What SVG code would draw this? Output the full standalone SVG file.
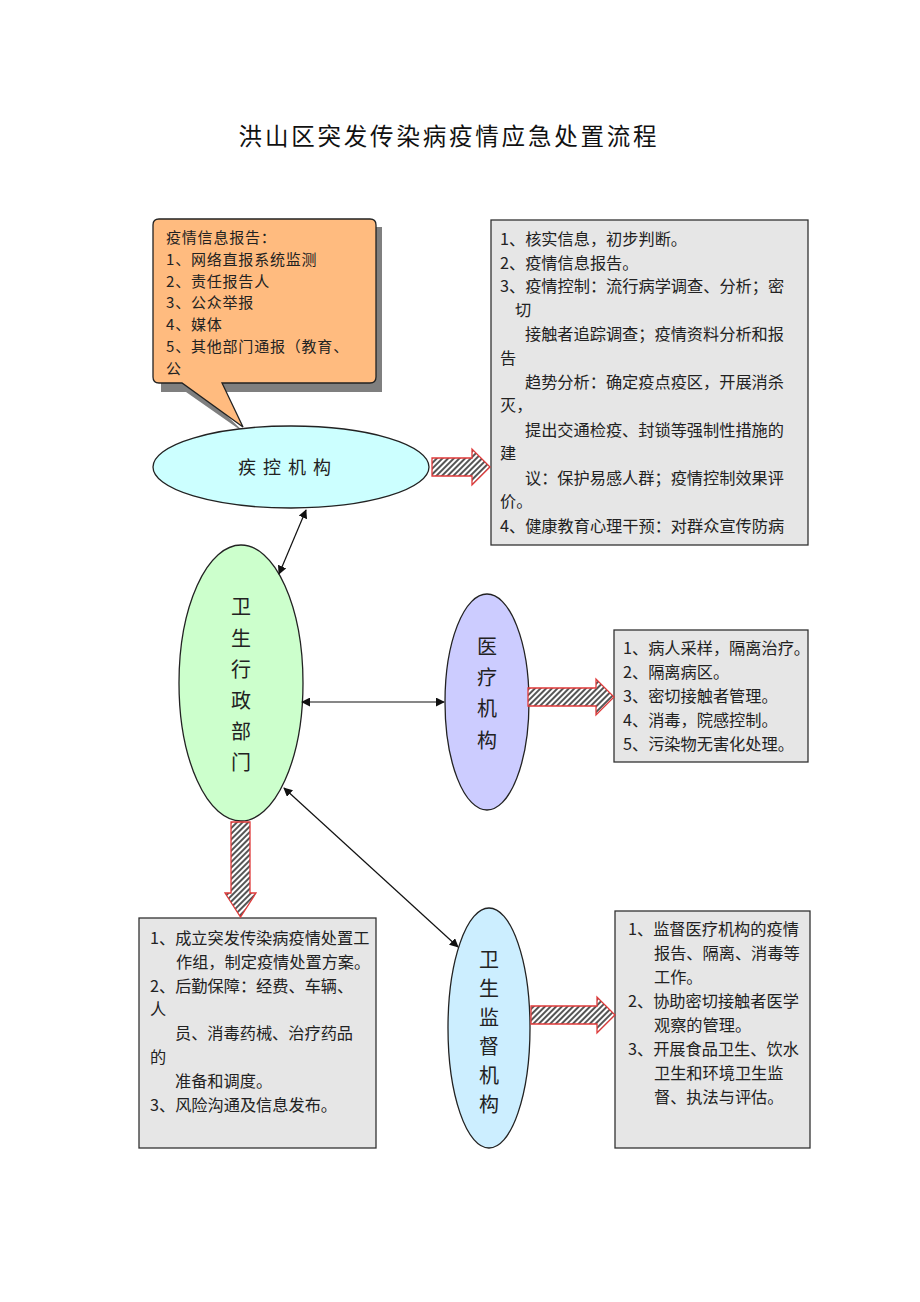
<svg xmlns="http://www.w3.org/2000/svg" width="920" height="1302" viewBox="0 0 920 1302">
<style>
.t{font-family:"Noto Sans CJK SC","Noto Sans",sans-serif;font-size:16.2px;fill:#222}
.c{font-family:"Noto Sans CJK SC","Noto Sans",sans-serif;font-size:15px;fill:#222;letter-spacing:0.8px}
.v{font-family:"Noto Sans CJK SC","Noto Sans",sans-serif;font-size:20px;fill:#222;text-anchor:middle}
.box{fill:#e6e6e6;stroke:#333;stroke-width:1.3}
.ha{fill:url(#hatch);stroke:#e03a3a;stroke-width:1.3}
.ln{stroke:#111;stroke-width:1.2;fill:none;marker-start:url(#ah);marker-end:url(#ah)}
</style>
<defs>
<pattern id="hatch" patternUnits="userSpaceOnUse" width="4" height="4" patternTransform="rotate(45)">
<rect width="4" height="4" fill="#fff"/>
<rect width="2" height="4" fill="#555"/>
</pattern>
<marker id="ah" viewBox="0 0 10 10" refX="9" refY="5" markerWidth="9" markerHeight="9" markerUnits="userSpaceOnUse" orient="auto-start-reverse">
<path d="M0,0 L10,5 L0,10 z" fill="#111"/>
</marker>
</defs>
<rect width="920" height="1302" fill="#fff"/>
<text x="449" y="145" text-anchor="middle" style="font-family:'Noto Sans CJK SC',sans-serif;font-size:23.5px;letter-spacing:2.8px;fill:#111">洪山区突发传染病疫情应急处置流程</text>

<g id="callout">
<path d="M161,227 h221 v165 h-180 l44,42 l-60,-42 h-25 z" fill="#7f7f7f"/>
<path d="M159,219 h211 q6,0 6,6 v152 q0,6 -6,6 h-148 l21,44 l-61,-44 h-23 q-6,0 -6,-6 v-152 q0,-6 6,-6 z" fill="#ffbb7f" stroke="#222" stroke-width="1.3"/>
<text class="c"><tspan x="166" y="243">疫情信息报告：</tspan><tspan x="166" y="265">1、网络直报系统监测</tspan><tspan x="166" y="287">2、责任报告人</tspan><tspan x="166" y="308">3、公众举报</tspan><tspan x="166" y="330">4、媒体</tspan><tspan x="166" y="352">5、其他部门通报（教育、</tspan><tspan x="166" y="374">公</tspan></text>
</g>

<g id="jikong">
<ellipse cx="291" cy="467" rx="138" ry="41" fill="#ccffff" stroke="#222" stroke-width="1.3"/>
<text x="288" y="474" text-anchor="middle" style="font-family:'Noto Sans CJK SC',sans-serif;font-size:18px;letter-spacing:7px;fill:#222">疾控机构</text>
</g>

<g id="box1">
<rect class="box" x="491" y="220" width="317" height="325"/>
<text class="t"><tspan x="500" y="245">1、核实信息，初步判断。</tspan><tspan x="500" y="269">2、疫情信息报告。</tspan><tspan x="500" y="292">3、疫情控制：流行病学调查、分析；密</tspan><tspan x="515" y="316">切</tspan><tspan x="525" y="340">接触者追踪调查；疫情资料分析和报</tspan><tspan x="500" y="364">告</tspan><tspan x="525" y="388">趋势分析：确定疫点疫区，开展消杀</tspan><tspan x="500" y="411">灭，</tspan><tspan x="525" y="436">提出交通检疫、封锁等强制性措施的</tspan><tspan x="500" y="459">建</tspan><tspan x="525" y="484">议：保护易感人群；疫情控制效果评</tspan><tspan x="500" y="507">价。</tspan><tspan x="500" y="532">4、健康教育心理干预：对群众宣传防病</tspan></text>
</g>

<g id="weisheng">
<ellipse cx="241" cy="683" rx="62" ry="138" fill="#ccffcc" stroke="#222" stroke-width="1.3"/>
<text class="v"><tspan x="241" y="614">卫</tspan><tspan x="241" y="646">生</tspan><tspan x="241" y="677">行</tspan><tspan x="241" y="708">政</tspan><tspan x="241" y="739">部</tspan><tspan x="241" y="770">门</tspan></text>
</g>

<g id="yiliao">
<ellipse cx="487" cy="702" rx="42" ry="108" fill="#ccccff" stroke="#222" stroke-width="1.3"/>
<text class="v"><tspan x="487" y="654">医</tspan><tspan x="487" y="685">疗</tspan><tspan x="487" y="716">机</tspan><tspan x="487" y="748">构</tspan></text>
</g>

<g id="box2">
<rect class="box" x="614" y="630" width="194" height="132"/>
<text class="t"><tspan x="623" y="654">1、病人采样，隔离治疗。</tspan><tspan x="623" y="678">2、隔离病区。</tspan><tspan x="623" y="702">3、密切接触者管理。</tspan><tspan x="623" y="726">4、消毒，院感控制。</tspan><tspan x="623" y="750">5、污染物无害化处理。</tspan></text>
</g>

<g id="box4">
<rect class="box" x="139" y="918" width="237" height="230"/>
<text class="t"><tspan x="150" y="944">1、成立突发传染病疫情处置工</tspan><tspan x="176" y="968">作组，制定疫情处置方案。</tspan><tspan x="150" y="992">2、后勤保障：经费、车辆、</tspan><tspan x="150" y="1015">人</tspan><tspan x="175" y="1039">员、消毒药械、治疗药品</tspan><tspan x="150" y="1063">的</tspan><tspan x="175" y="1087">准备和调度。</tspan><tspan x="150" y="1111">3、风险沟通及信息发布。</tspan></text>
</g>

<g id="jiandu">
<ellipse cx="489" cy="1028" rx="41" ry="120" fill="#cceeff" stroke="#222" stroke-width="1.3"/>
<text class="v"><tspan x="489" y="967">卫</tspan><tspan x="489" y="996">生</tspan><tspan x="489" y="1025">监</tspan><tspan x="489" y="1054">督</tspan><tspan x="489" y="1083">机</tspan><tspan x="489" y="1112">构</tspan></text>
</g>

<g id="box3">
<rect class="box" x="615" y="911" width="195" height="237"/>
<text class="t"><tspan x="628" y="935">1、监督医疗机构的疫情</tspan><tspan x="654" y="959">报告、隔离、消毒等</tspan><tspan x="654" y="983">工作。</tspan><tspan x="628" y="1007">2、协助密切接触者医学</tspan><tspan x="654" y="1031">观察的管理。</tspan><tspan x="628" y="1055">3、开展食品卫生、饮水</tspan><tspan x="654" y="1079">卫生和环境卫生监</tspan><tspan x="654" y="1103">督、执法与评估。</tspan></text>
</g>

<g id="connectors">
<path class="ha" d="M432,458 h40 v-9 l18,18 l-18,18 v-9 h-40 z"/>
<path class="ha" d="M528,688 h68 v-9 l18,18 l-18,18 v-9 h-68 z"/>
<path class="ha" d="M531,1006 h66 v-9 l18,18 l-18,18 v-9 h-66 z"/>
<path class="ha" d="M231,822 h19 v71 h6 l-15.5,24 l-15.5,-24 h6 z"/>
<line class="ln" x1="279" y1="574" x2="306" y2="510"/>
<line class="ln" x1="302" y1="702" x2="444" y2="702"/>
<line class="ln" x1="284" y1="788" x2="458" y2="947"/>
</g>
</svg>
